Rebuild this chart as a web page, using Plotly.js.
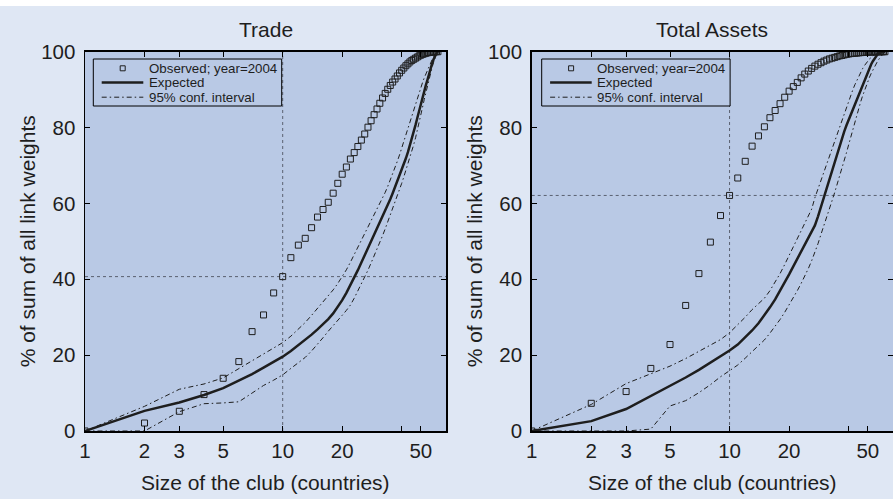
<!DOCTYPE html>
<html><head><meta charset="utf-8">
<script src="https://cdn.plot.ly/plotly-3.0.1.min.js"></script>
<style>html,body{margin:0;padding:0;background:#ffffff;}#chart{position:absolute;left:0;top:6px;width:893px;height:493px;}</style>
</head><body><div id="chart"></div>
<script>
const clubSize = [1,2,3,4,5,6,7,8,9,10,11,12,13,14,15,16,17,18,19,20,21,22,23,24,25,26,27,28,29,30,31,32,33,34,35,36,37,38,39,40,41,42,43,44,45,46,47,48,49,50,51,52,53,54,55,56,57,58,59,60,61];

const tradeObs = [0,2.1,5.2,9.6,13.9,18.3,26.2,30.6,36.4,40.7,45.7,49.0,50.8,53.6,56.4,58.4,60.3,62.7,65.3,67.7,69.6,71.7,73.4,75.0,76.7,78.3,80.1,81.8,83.4,84.9,86.4,87.8,89.0,90.1,91.1,92.0,92.8,93.6,94.4,95.1,95.7,96.3,96.8,97.3,97.7,98.0,98.3,98.6,98.9,99.1,99.3,99.45,99.6,99.7,99.78,99.85,99.9,99.94,99.97,99.99,100];
const tradeExp = [0,5.3,7.5,9.5,11.3,13.2,15.0,16.7,18.2,19.6,21.1,22.6,24.0,25.4,26.8,28.1,29.5,31.0,32.7,34.5,36.4,38.4,40.4,42.4,44.4,46.3,48.2,50.0,51.7,53.4,55.1,56.7,58.2,59.5,61.1,62.7,64.3,65.8,67.3,68.6,70.2,71.9,73.5,75.2,77.0,78.9,80.7,82.6,84.5,86.4,88.1,89.7,91.2,92.6,94.2,95.6,96.9,98.0,99.0,99.6,100];
const tradeUp = [0,6.5,11.0,12.4,14.0,16.4,18.4,20.2,21.7,23.3,25.0,26.8,28.6,30.5,32.3,34.0,35.5,37.2,38.9,40.6,42.5,44.5,46.5,48.5,50.3,52.0,53.7,55.3,56.9,58.4,59.8,61.3,62.9,64.5,66.1,67.7,69.4,71.1,72.8,74.6,76.4,78.2,80.0,81.8,83.5,85.1,86.6,88.0,89.4,90.7,91.9,93.1,94.2,95.2,96.2,97.1,97.9,98.6,99.2,99.7,100];
const tradeLo = [0,0,5.1,7.2,7.4,7.7,10.0,12.0,13.4,14.8,16.5,18.0,19.4,21.1,22.8,24.6,26.3,27.7,29.1,30.5,31.8,33.2,35.0,36.9,38.7,40.5,42.4,44.3,46.1,47.9,49.7,51.5,53.3,55.1,56.8,58.5,60.2,61.9,63.6,65.3,67.0,68.7,70.4,72.1,73.8,75.5,77.3,79.2,81.2,83.3,85.4,87.4,89.3,91.1,92.8,94.4,95.9,97.2,98.4,99.4,100];

const assetsObs = [0,7.3,10.4,16.5,22.8,33.1,41.5,49.8,56.8,62.1,66.7,71.1,75.1,77.8,80.2,82.6,84.5,86.3,88.0,89.6,90.8,91.9,93.1,94.1,94.9,95.6,96.2,96.7,97.1,97.5,97.8,98.1,98.3,98.5,98.7,98.9,99.0,99.15,99.3,99.4,99.5,99.55,99.6,99.65,99.7,99.75,99.8,99.82,99.85,99.87,99.9,99.91,99.93,99.94,99.95,99.96,99.97,99.98,99.99,99.995,100];
const assetsExp = [0,2.6,5.8,9.2,11.9,14.1,16.1,18.0,19.8,21.2,22.8,24.6,26.5,28.4,30.5,32.6,34.7,36.9,39.1,41.3,43.4,45.4,47.3,49.1,50.8,52.5,54.2,56.6,59.2,61.8,64.2,66.5,68.7,70.9,73.0,75.0,77.0,79.0,80.6,82.0,83.4,84.8,86.1,87.4,88.6,89.9,91.2,92.5,93.7,94.8,95.8,96.7,97.5,98.2,98.8,99.3,99.6,99.8,99.9,99.95,100];
const assetsUp = [0,7.0,12.5,15.0,17.1,19.1,21.0,22.5,24.1,25.9,28.0,30.0,32.0,33.5,35.0,37.0,39.2,41.5,43.9,46.3,48.5,50.6,52.6,54.5,56.4,58.5,61.5,63.9,66.2,68.4,70.5,72.5,74.5,76.4,78.3,80.2,82.0,83.8,85.5,87.1,88.6,90.0,91.3,92.5,93.6,94.6,95.5,96.3,97.0,97.6,98.1,98.5,98.9,99.2,99.4,99.6,99.75,99.85,99.92,99.97,100];
const assetsLo = [0,0,0,0.5,6.6,8.0,10.1,12.2,14.3,15.9,17.4,19.2,21.0,22.5,24.0,25.8,27.6,29.4,31.3,33.2,35.1,37.0,38.9,40.8,42.8,44.9,47.0,49.4,51.9,54.4,56.6,58.7,60.8,62.9,65.0,67.1,69.2,71.3,73.4,75.5,77.6,79.7,81.7,83.5,85.2,86.8,88.3,89.7,91.0,92.2,93.3,94.3,95.2,96.0,96.8,97.5,98.1,98.7,99.2,99.6,100];

const panelTitles = ['Trade', 'Total Assets'];
const xTickVals = [1,2,3,5,10,20,40,50];
const xTickText = ['1','2','3','5','10','20','','50'];
const yTickVals = [0,20,40,60,80,100];
const markSize = 10;   // highlighted club size
const legendNames = ['Observed; year=2004', 'Expected', '95% conf. interval'];
const xTitle = 'Size of the club (countries)';
const yTitle = '% of sum of all link weights';

const FONT = '"Liberation Sans", Arial, Helvetica, sans-serif';
const W = 893, H = 493, TOP = 6;
const PLOT_BG = '#b9c9e5', PAPER_BG = '#dfe7f4', INK = '#1e1e1e';
const DASHDOT = '5px,3px,1.5px,3px';
const X = px => px / W;                 // page px -> paper x
const Y = py => (H - (py - TOP)) / H;   // page px -> paper y

function panel(obs, exp, up, lo, xa, ya) {
  return [
    {x: clubSize, y: up, xaxis: xa, yaxis: ya, mode: 'lines', name: legendNames[2], showlegend: false,
     line: {color: INK, width: 1, dash: DASHDOT}},
    {x: clubSize, y: lo, xaxis: xa, yaxis: ya, mode: 'lines', name: legendNames[2], showlegend: false,
     line: {color: INK, width: 1, dash: DASHDOT}},
    {x: clubSize, y: exp, xaxis: xa, yaxis: ya, mode: 'lines', name: legendNames[1], showlegend: false,
     line: {color: INK, width: 2.5}},
    {x: clubSize, y: obs, xaxis: xa, yaxis: ya, mode: 'markers', name: legendNames[0], showlegend: false,
     marker: {symbol: 'square-open', size: 6, color: INK, line: {width: 1, color: INK}}}
  ];
}

const data = [].concat(
  panel(tradeObs, tradeExp, tradeUp, tradeLo, 'x', 'y'),
  panel(assetsObs, assetsExp, assetsUp, assetsLo, 'x2', 'y2')
);

const TICKFONT = {family: FONT, size: 20.5, color: INK};
const xCommon = {
  type: 'log', range: [0, Math.log10(67)], tickvals: xTickVals, ticktext: xTickText,
  ticks: 'inside', ticklen: 5, tickwidth: 1, tickcolor: '#000',
  showline: true, linecolor: '#000', linewidth: 1.5, mirror: 'ticks',
  showgrid: false, zeroline: false, ticklabelstandoff: 1, tickfont: TICKFONT
};
const yCommon = {
  range: [0, 100], tickvals: yTickVals, domain: [Y(431), Y(51.7)],
  ticks: 'inside', ticklen: 5, tickwidth: 1, tickcolor: '#000',
  showline: true, linecolor: '#000', linewidth: 1.5, mirror: 'ticks',
  showgrid: false, zeroline: false, ticklabelstandoff: 4, tickfont: TICKFONT
};

const dom1 = [X(85), X(446)], dom2 = [X(531.7), 1];
const mid = d => (d[0] + d[1]) / 2;

function refLines(xref, yref, obs) {
  const yv = obs[clubSize.indexOf(markSize)];
  const ln = {color: '#5a6070', width: 1, dash: 'dot'};
  return [
    {type: 'line', xref: xref, yref: yref + ' domain', x0: markSize, x1: markSize, y0: 0, y1: 1, line: ln, layer: 'below'},
    {type: 'line', xref: xref + ' domain', yref: yref, x0: 0, x1: 1, y0: yv, y1: yv, line: ln, layer: 'below'}
  ];
}

// Legend box drawn as decoration (Matlab-style compact legend)
const LEG_W = 188.4, LEG_TOP = 59, LEG_BOT = 106;
const ROWS = [68.3, 82.6, 97.2];
function legendBox(L) {
  const shapes = [
    {type: 'rect', xref: 'paper', yref: 'paper', x0: X(L), x1: X(L + LEG_W), y0: Y(LEG_BOT), y1: Y(LEG_TOP),
     fillcolor: PLOT_BG, line: {color: '#000', width: 1}, layer: 'above'},
    {type: 'rect', xref: 'paper', yref: 'paper', x0: X(L + 26.9), x1: X(L + 31.9), y0: Y(ROWS[0] + 2.5), y1: Y(ROWS[0] - 2.5),
     fillcolor: 'rgba(0,0,0,0)', line: {color: INK, width: 1}, layer: 'above'},
    {type: 'line', xref: 'paper', yref: 'paper', x0: X(L + 8.4), x1: X(L + 50), y0: Y(ROWS[1]), y1: Y(ROWS[1]),
     line: {color: INK, width: 2.5}, layer: 'above'},
    {type: 'line', xref: 'paper', yref: 'paper', x0: X(L + 8.4), x1: X(L + 50), y0: Y(ROWS[2]), y1: Y(ROWS[2]),
     line: {color: INK, width: 1, dash: DASHDOT}, layer: 'above'}
  ];
  const ann = legendNames.map((t, i) => ({
    text: t, xref: 'paper', yref: 'paper', x: X(L + 53.5), y: Y(ROWS[i]), xanchor: 'left', yanchor: 'middle',
    showarrow: false, font: {family: FONT, size: 13.3, color: INK}
  }));
  return {shapes, ann};
}
const leg1 = legendBox(93.3), leg2 = legendBox(541.7);

const TFONT = {family: FONT, size: 21, color: INK};
const layout = {
  width: W, height: H,
  margin: {l: 0, r: 0, t: 0, b: 0},
  paper_bgcolor: PAPER_BG, plot_bgcolor: PLOT_BG,
  font: {family: FONT, color: INK},
  showlegend: false,
  xaxis: Object.assign({}, xCommon, {domain: dom1, anchor: 'y'}),
  yaxis: Object.assign({}, yCommon, {anchor: 'x'}),
  xaxis2: Object.assign({}, xCommon, {domain: dom2, anchor: 'y2'}),
  yaxis2: Object.assign({}, yCommon, {anchor: 'x2'}),
  shapes: [].concat(refLines('x', 'y', tradeObs), refLines('x2', 'y2', assetsObs), leg1.shapes, leg2.shapes),
  annotations: [
    {text: panelTitles[0], xref: 'paper', yref: 'paper', x: mid(dom1), y: Y(29), xanchor: 'center', yanchor: 'middle', showarrow: false, font: TFONT},
    {text: panelTitles[1], xref: 'paper', yref: 'paper', x: mid(dom2), y: Y(29), xanchor: 'center', yanchor: 'middle', showarrow: false, font: TFONT},
    {text: xTitle, xref: 'paper', yref: 'paper', x: mid(dom1), y: Y(482), xanchor: 'center', yanchor: 'middle', showarrow: false, font: TFONT},
    {text: xTitle, xref: 'paper', yref: 'paper', x: mid(dom2), y: Y(482), xanchor: 'center', yanchor: 'middle', showarrow: false, font: TFONT},
    {text: yTitle, xref: 'paper', yref: 'paper', x: X(27), y: mid(yCommon.domain), xanchor: 'center', yanchor: 'middle', textangle: -90, showarrow: false, font: TFONT},
    {text: yTitle, xref: 'paper', yref: 'paper', x: X(474), y: mid(yCommon.domain), xanchor: 'center', yanchor: 'middle', textangle: -90, showarrow: false, font: TFONT}
  ].concat(leg1.ann, leg2.ann)
};

Plotly.newPlot('chart', data, layout, {displayModeBar: false, staticPlot: true});
</script>
</body></html>
